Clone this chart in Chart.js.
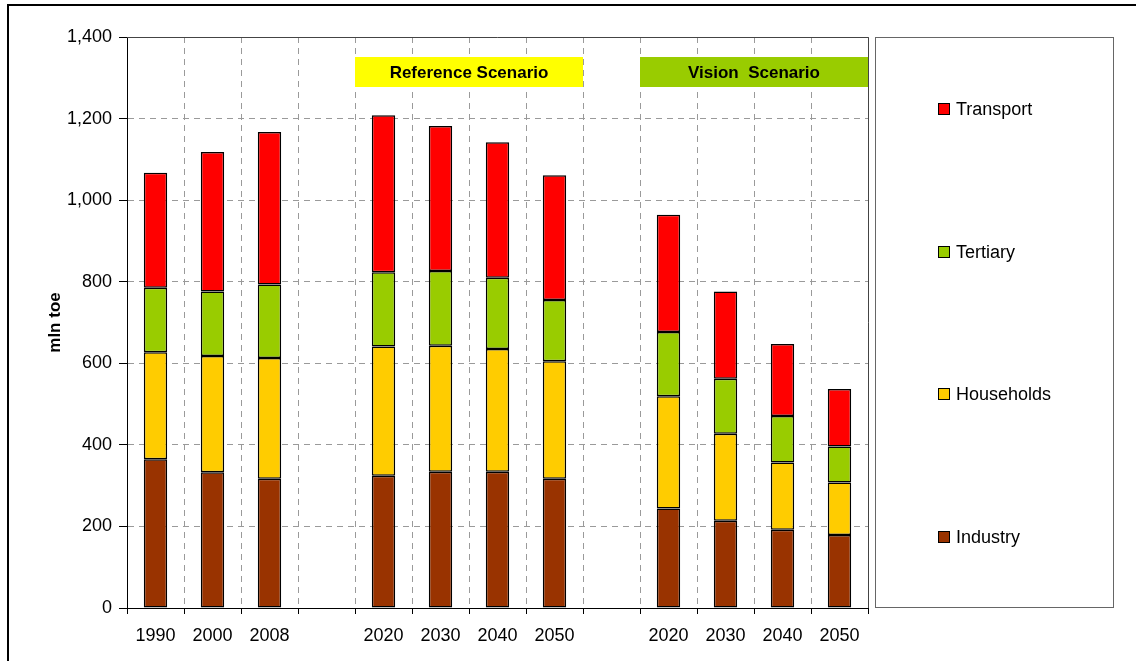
<!DOCTYPE html>
<html>
<head>
<meta charset="utf-8">
<title>Final energy demand by sector</title>
<script src="https://cdn.jsdelivr.net/npm/chart.js@4.4.1/dist/chart.umd.min.js"></script>
<style>
  html, body { margin: 0; padding: 0; background: #fff; }
  #wrap { position: relative; width: 1136px; height: 661px; }
</style>
</head>
<body>
<div id="wrap"><canvas id="energyChart"></canvas></div>
<script>
// categories (blank slots are the gaps between the groups)
const categories = ['1990', '2000', '2008', '', '2020', '2030', '2040', '2050', '', '2020', '2030', '2040', '2050'];

// mln toe
const industry   = [365, 333, 317, null, 324, 334, 334, 317, null, 244, 214, 192, 179];
const households = [262, 285, 296, null, 317, 309, 301, 288, null, 275, 213, 165, 129];
const tertiary   = [158, 158, 180, null, 182, 183, 175, 150, null, 158, 135, 114,  88];
const transport  = [282, 342, 374, null, 385, 356, 332, 306, null, 287, 214, 176, 141];

const seriesNames = ['Industry', 'Households', 'Tertiary', 'Transport'];
const seriesColors = ['#993300', '#FFCC00', '#99CC00', '#FF0000'];

const yTicks = [0, 200, 400, 600, 800, 1000, 1200, 1400];

const scenarioNames = ['Reference Scenario', 'Vision  Scenario'];
const scenarioFrom = [4, 9];
const scenarioTo = [7, 12];
const scenarioColors = ['#FFFF00', '#99CC00'];

const FONT = '"Liberation Sans", Arial, sans-serif';

(function () {
  const canvas = document.getElementById('energyChart');

  // outer frame (only left and top edges are visible in the picture)
  const framePlugin = {
    id: 'frame',
    beforeDraw(chart) {
      const ctx = chart.ctx;
      ctx.save();
      ctx.fillStyle = '#fff';
      ctx.fillRect(0, 0, chart.width, chart.height);
      ctx.fillStyle = '#000';
      ctx.fillRect(7, 4, 2, chart.height - 4);
      ctx.fillRect(7, 4, chart.width - 7, 2);
      ctx.restore();
    },
    afterDatasetsDraw(chart) {
      // plot area top and right edges
      const a = chart.chartArea;
      const ctx = chart.ctx;
      ctx.save();
      ctx.strokeStyle = '#444';
      ctx.lineWidth = 1;
      ctx.beginPath();
      ctx.moveTo(a.left, a.top + 0.5);
      ctx.lineTo(a.right + 0.5, a.top + 0.5);
      ctx.lineTo(a.right + 0.5, a.bottom);
      ctx.stroke();
      ctx.restore();
    }
  };

  // yellow / green scenario labels spanning their category groups
  const scenarioPlugin = {
    id: 'scenarios',
    beforeDatasetsDraw(chart) {
      const x = chart.scales.x;
      const a = chart.chartArea;
      const half = x.width / categories.length / 2;
      const ctx = chart.ctx;
      ctx.save();
      scenarioNames.forEach((name, i) => {
        const left = x.getPixelForValue(scenarioFrom[i]) - half;
        const right = x.getPixelForValue(scenarioTo[i]) + half;
        const top = a.top + 20;
        const h = 30;
        ctx.fillStyle = scenarioColors[i];
        ctx.fillRect(left, top, right - left, h);
        ctx.fillStyle = '#000';
        ctx.font = 'bold 17px ' + FONT;
        ctx.textAlign = 'center';
        ctx.textBaseline = 'middle';
        ctx.fillText(name, (left + right) / 2, top + h / 2 + 1);
      });
      ctx.restore();
    }
  };

  // boxed legend on the right, Transport on top
  const legendPlugin = {
    id: 'boxLegend',
    afterDraw(chart) {
      const ctx = chart.ctx;
      const a = chart.chartArea;
      const bx = 875, bw = 238;
      const by = a.top, bh = 570;
      ctx.save();
      ctx.strokeStyle = '#666';
      ctx.lineWidth = 1;
      ctx.strokeRect(bx + 0.5, by + 0.5, bw, bh);
      const sets = chart.data.datasets.slice().reverse();
      const step = bh / sets.length;
      ctx.font = '18px ' + FONT;
      ctx.textBaseline = 'middle';
      ctx.textAlign = 'left';
      sets.forEach((ds, i) => {
        const cy = Math.round(by + step * (i + 0.5)) + 1;
        ctx.fillStyle = ds.backgroundColor;
        ctx.fillRect(938, cy - 6, 12, 12);
        ctx.strokeStyle = '#000';
        ctx.strokeRect(938.5, cy - 5.5, 11, 11);
        ctx.fillStyle = '#000';
        ctx.fillText(ds.label, 956, cy + 1);
      });
      ctx.restore();
    }
  };

  const values = [industry, households, tertiary, transport];
  const datasets = seriesNames.map((name, i) => ({
    label: name,
    data: values[i],
    backgroundColor: seriesColors[i],
    borderColor: '#000',
    borderWidth: 1.5,
    borderSkipped: false,
    inflateAmount: 0,
    categoryPercentage: 1,
    barPercentage: 0.41
  }));

  new Chart(canvas.getContext('2d'), {
    type: 'bar',
    data: { labels: categories, datasets: datasets },
    plugins: [framePlugin, scenarioPlugin, legendPlugin],
    options: {
      responsive: true,
      maintainAspectRatio: false,
      animation: false,
      layout: { padding: { top: 37, right: 268, left: 0, bottom: 0 } },
      plugins: {
        legend: { display: false },
        tooltip: { enabled: false }
      },
      scales: {
        x: {
          stacked: true,
          offset: true,
          afterFit: function (s) { s.height = 53; },
          grid: {
            offset: true,
            color: '#9a9a9a',
            tickColor: '#000',
            tickLength: 6,
            tickBorderDash: []
          },
          border: { color: '#000', width: 1, dash: [6, 5] },
          ticks: {
            color: '#000',
            font: { family: FONT, size: 18 },
            padding: 11,
            maxRotation: 0,
            autoSkip: false
          }
        },
        y: {
          stacked: true,
          min: 0,
          max: 1400,
          afterFit: function (s) { s.width = 127; },
          afterBuildTicks: function (s) { s.ticks = yTicks.map(v => ({ value: v })); },
          grid: {
            color: '#9a9a9a',
            tickColor: '#000',
            tickLength: 8,
            tickBorderDash: []
          },
          border: { color: '#000', width: 1, dash: [6, 5] },
          ticks: {
            color: '#000',
            font: { family: FONT, size: 18 },
            padding: 7,
            callback: function (v) { return Number(v).toLocaleString('en-US'); }
          },
          title: {
            display: true,
            text: 'mln toe',
            color: '#000',
            font: { family: FONT, size: 17, weight: 'bold' },
            padding: { top: 45, bottom: 0 }
          }
        }
      }
    }
  });
})();
</script>
</body>
</html>
